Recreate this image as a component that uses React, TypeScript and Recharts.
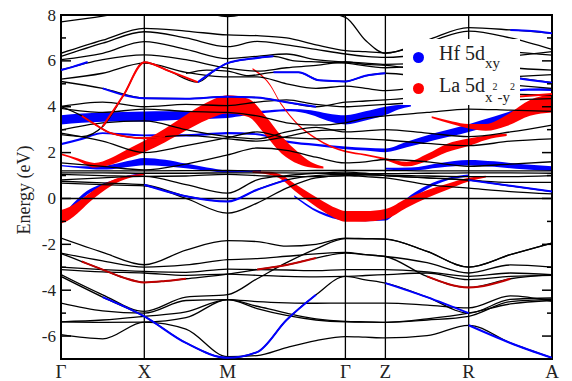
import React from 'react';
import { ComposedChart, Line, Area, XAxis, YAxis, ReferenceLine, ReferenceArea } from 'recharts';

// k-path coordinates (in units of 2π/a) of the sampling nodes
const K_NODES = [0, 0.5, 1, 1.5, 2, 2.354, 2.707, 3.061, 3.414, 3.654, 3.894, 4.394, 4.894, 5.394, 5.894];
const SYM_K = [0, 1, 2, 3.414, 3.894, 4.894, 5.894];
const SYM_LABELS = ['Γ', 'X', 'M', 'Γ', 'Z', 'R', 'A'];
const Y_TICKS = [-7, -6, -5, -4, -3, -2, -1, 0, 1, 2, 3, 4, 5, 6, 7, 8];

// Black bands sampled on K_NODES (eV)
const valenceBands = [
  [-1.73, -2.35, -2.89, -2.25, -1.84, -1.88, -2.08, -2.0, -1.73, -1.75, -1.77, -2.31, -2.99, -2.45, -1.94],
  [-2.38, -2.72, -2.99, -2.9, -2.67, -2.62, -2.52, -2.42, -2.35, -2.45, -2.53, -2.8, -3.25, -2.9, -2.99],
  [-2.99, -3.1, -3.18, -3.22, -3.08, -3.1, -3.12, -3.15, -3.1, -3.1, -3.1, -3.2, -3.4, -3.25, -3.32],
  [-3.1, -3.2, -3.25, -3.35, -3.3, -3.35, -3.4, -3.42, -3.4, -3.36, -3.32, -3.25, -3.54, -3.4, -3.35],
  [-3.32, -4.2, -4.92, -4.3, -4.19, -3.5, -2.8, -2.2, -1.75, -1.76, -1.77, -2.31, -2.99, -2.45, -1.94],
  [-3.4, -4.3, -5.14, -6.3, -6.95, -6.7, -5.3, -4.2, -3.4, -3.55, -3.69, -4.3, -5.0, -4.4, -4.34],
  [-4.56, -4.9, -5.0, -4.45, -4.41, -4.5, -4.55, -4.57, -4.56, -4.56, -4.56, -4.65, -4.77, -4.25, -4.49],
  [-5.38, -5.3, -5.14, -4.95, -4.41, -4.7, -5.0, -5.25, -5.36, -5.38, -5.4, -5.3, -5.14, -4.5, -4.4],
  [-5.38, -5.4, -5.39, -5.2, -4.41, -4.8, -5.1, -5.3, -5.38, -5.39, -5.4, -5.25, -5.0, -4.6, -4.45],
  [-5.94, -6.12, -5.39, -5.7, -6.9, -6.85, -6.5, -6.2, -6.02, -6.05, -6.08, -5.98, -5.53, -6.3, -6.95],
];

const conductionBands = [
  [7.7, 7.95, 8.25, 8.3, 7.93, 8.15, 8.25, 8.15, 7.9, 6.9, 6.33, 6.9, 7.45, 7.35, 7.2],
  [6.33, 6.9, 7.42, 7.3, 7.13, 7.1, 7.0, 6.7, 6.45, 6.4, 6.35, 6.8, 7.3, 7.0, 6.5],
  [6.19, 6.77, 7.27, 7.0, 6.62, 6.85, 6.7, 6.5, 6.3, 6.2, 6.15, 6.3, 6.6, 6.4, 6.25],
  [6.05, 6.33, 6.84, 6.5, 6.1, 6.2, 6.3, 6.05, 5.95, 5.9, 5.85, 5.9, 6.1, 6.2, 6.4],
  [5.6, 6.05, 6.26, 6.05, 5.68, 5.55, 5.7, 5.8, 5.95, 5.85, 5.8, 5.6, 5.55, 5.3, 5.05],
  [5.2, 5.46, 5.9, 5.5, 5.3, 5.3, 5.0, 4.8, 4.9, 4.8, 4.7, 4.9, 5.1, 4.95, 4.8],
  [5.1, 4.8, 4.37, 4.35, 4.44, 4.4, 4.2, 4.0, 4.2, 4.25, 4.3, 4.45, 4.6, 4.55, 4.5],
  [4.01, 4.2, 4.0, 4.1, 4.05, 4.2, 4.3, 4.1, 4.0, 4.05, 4.1, 4.2, 4.25, 4.3, 4.35],
  [3.93, 3.75, 3.9, 3.8, 3.75, 3.6, 3.3, 3.2, 3.3, 3.5, 3.6, 3.75, 3.9, 3.85, 3.8],
  [2.98, 3.3, 3.38, 3.0, 2.7, 2.6, 2.9, 3.1, 2.9, 2.95, 3.0, 2.85, 2.7, 2.9, 3.2],
  [2.85, 2.5, 2.0, 2.3, 2.65, 2.9, 2.65, 2.6, 2.62, 2.6, 2.55, 2.4, 2.3, 2.5, 2.6],
  [1.55, 1.4, 1.25, 1.5, 1.9, 2.2, 2.1, 1.8, 1.55, 1.6, 1.7, 1.6, 1.4, 1.5, 1.6],
  [1.2, 1.2, 1.2, 1.21, 1.22, 1.2, 1.2, 1.22, 1.22, 1.22, 1.22, 1.2, 1.2, 1.2, 1.2],
  [1.12, 1.12, 1.1, 1.1, 1.12, 1.12, 1.12, 1.1, 1.08, 1.08, 1.08, 1.1, 1.12, 1.12, 1.1],
  [1.05, 1.0, 0.96, 0.98, 1.05, 1.0, 0.95, 0.95, 1.0, 1.02, 1.02, 0.98, 0.95, 0.95, 1.0],
  [0.81, 0.9, 0.96, 0.6, 0.23, 0.81, 1.0, 1.1, 1.15, 1.1, 1.0, 0.9, 0.8, 0.7, 0.7],
  [0.67, 0.6, 0.55, 0.0, -0.64, -0.2, 0.45, 0.9, 1.0, 0.95, 0.9, 0.6, 0.45, 0.3, 0.2],
  [0.75, 0.68, 0.6, 0.1, -0.13, 0.38, 0.81, 1.0, 1.05, 1.05, 1.0, 0.9, 0.8, 0.55, 0.3],
];

// Black bands with their own k samples: [k, E]
const bandE = [[0, -2.4], [0.25, -2.75], [0.5, -3.1], [0.75, -3.45], [1, -3.66], [1.25, -3.6], [1.5, -3.5], [2, -3.3], [2.354, -3.1], [2.707, -2.9], [3.061, -2.6], [3.414, -2.38], [3.654, -2.45], [3.894, -2.53], [4.394, -3.4], [4.894, -3.88], [5.394, -3.5], [5.894, -3.32]];
const bandPeakX = [[0, 2.78], [0.25, 2.7], [0.5, 3.14], [0.75, 4.5], [1, 5.94], [1.3, 5.55], [1.64, 5.07], [1.85, 5.6], [2, 5.9], [2.3, 6.1], [2.55, 6.2], [2.8, 6.0], [3.1, 5.95], [3.414, 5.9], [3.894, 5.7], [4.394, 5.8], [4.894, 5.9], [5.394, 5.7], [5.894, 5.6]];
const bandDipX = [[0, 4.01], [0.25, 3.6], [0.4, 3.25], [0.6, 2.85], [1, 2.63], [1.25, 2.7], [1.5, 2.75], [2, 2.6], [2.354, 2.5], [2.707, 2.7], [3.061, 2.95], [3.414, 3.0]];
const bandMid55 = [[1.5, 5.45], [1.75, 5.6], [2, 5.55], [2.25, 5.35], [2.55, 5.5], [2.85, 5.5], [3.1, 5.15], [3.414, 5.1], [3.654, 5.35], [3.894, 5.46], [4.394, 5.3], [4.894, 5.2], [5.394, 5.3], [5.894, 5.4]];

// Thin projected segments: [k, E]
const hfThin = [
  [[0, 5.6], [0.15, 5.75], [0.32, 5.95]],
  [[0.5, 4.8], [1, 4.37], [1.5, 4.35], [2, 4.44], [2.354, 4.4], [2.707, 4.2], [3.061, 4.0]],
  [[1.64, 5.07], [1.85, 5.6], [2, 5.9], [2.3, 6.1], [2.55, 6.2]],
  [[2.55, 5.5], [2.85, 5.5], [3.1, 5.15], [3.414, 5.1], [3.654, 5.35], [3.894, 5.46]],
  [[1, 0.6], [1.5, 0.1], [2, -0.13], [2.354, 0.38], [2.707, 0.81]],
  [[4.894, 0.8], [5.394, 0.55], [5.894, 0.3]],
  [[5.394, 7.35], [5.65, 7.3], [5.894, 7.2]],
  [[5.394, 5.3], [5.65, 5.15], [5.894, 5.05]],
  [[0.5, -4.3], [1, -5.14], [1.5, -6.3], [2, -6.95], [2.354, -6.7], [2.707, -5.3], [3.061, -4.2]],
  [[3.894, -3.69], [4.394, -4.3], [4.894, -5.0]],
  [[4.894, -5.53], [5.394, -6.3], [5.894, -6.95]],
];
const laThin = [
  [[0.5, 3.14], [0.75, 4.5], [1, 5.94], [1.3, 5.55], [1.64, 5.07]],
  [[0.25, 3.6], [0.4, 3.25], [0.6, 2.85], [1, 2.63], [1.25, 2.7]],
  [[5.5, 4.45], [5.7, 4.5], [5.894, 4.55]],
];
const laThinDeep = [
  [[0.25, -2.75], [0.5, -3.1], [0.75, -3.45], [1, -3.66], [1.25, -3.6], [1.5, -3.5]],
  [[2.354, -3.1], [2.707, -2.9], [3.061, -2.6]],
  [[4.394, -3.4], [4.894, -3.88], [5.394, -3.5]],
];

// Fat bands: [k, E, half-thickness]
const hfFat = [
  [[0, 3.43, 0.2], [0.25, 3.5, 0.2], [0.5, 3.55, 0.2], [0.75, 3.57, 0.2], [1, 3.57, 0.22], [1.25, 3.6, 0.2], [1.5, 3.62, 0.18], [1.75, 3.63, 0.16], [2, 3.65, 0.14], [2.2, 3.7, 0.08], [2.5, 3.8, 0.05], [2.75, 3.85, 0.05], [3.0, 3.75, 0.1], [3.2, 3.55, 0.16], [3.414, 3.43, 0.2], [3.654, 3.6, 0.2], [3.894, 3.82, 0.18], [4.05, 3.98, 0.1], [4.2, 4.05, 0.04]],
  [[0, -0.78, 0.12], [0.07, -0.63, 0.11], [0.15, -0.3, 0.1], [0.31, 0.24, 0.09], [0.45, 0.5, 0.08], [0.59, 0.68, 0.07], [0.8, 0.95, 0.05], [1, 1.06, 0.04]],
  [[0, 1.43, 0.03], [0.3, 1.35, 0.05], [0.55, 1.35, 0.09], [0.8, 1.5, 0.13], [1, 1.61, 0.16], [1.25, 1.55, 0.14], [1.5, 1.42, 0.1], [1.75, 1.28, 0.07], [2, 1.18, 0.05], [2.2, 1.18, 0.04], [2.4, 1.2, 0.04]],
  [[0, 2.37, 0.05], [0.25, 2.6, 0.05], [0.5, 2.85, 0.04], [0.75, 2.8, 0.04], [1, 2.75, 0.04], [1.25, 2.75, 0.05], [1.5, 2.75, 0.05], [1.75, 2.8, 0.05], [2, 2.85, 0.05], [2.354, 2.8, 0.04], [2.707, 2.48, 0.05], [3.061, 2.34, 0.05], [3.414, 2.21, 0.06], [3.654, 2.15, 0.06], [3.894, 2.1, 0.08], [4.15, 2.35, 0.12], [4.49, 2.7, 0.15], [4.894, 3.07, 0.17], [5.2, 3.4, 0.17], [5.5, 3.75, 0.16], [5.894, 4.0, 0.12]],
  [[3.894, 1.3, 0.04], [4.2, 1.28, 0.07], [4.55, 1.45, 0.1], [4.894, 1.56, 0.12], [5.2, 1.5, 0.12], [5.55, 1.38, 0.11], [5.894, 1.3, 0.1]],
  [[2.8, 0.1, 0.04], [3.1, -0.6, 0.05], [3.414, -0.9, 0.07], [3.654, -0.92, 0.07], [3.894, -0.88, 0.08], [4.05, -0.4, 0.1], [4.2, 0.05, 0.1], [4.4, 0.5, 0.08], [4.65, 0.85, 0.05], [4.894, 1.0, 0.04]],
  [[5.3, 4.6, 0.03], [5.6, 4.75, 0.05], [5.894, 4.75, 0.06]],
];
const laFat = [
  [[0, -0.8, 0.3], [0.1, -0.65, 0.28], [0.2, -0.4, 0.25], [0.33, 0.0, 0.2], [0.47, 0.38, 0.16], [0.62, 0.7, 0.11], [0.8, 0.93, 0.06], [1, 1.05, 0.04]],
  [[0, 1.93, 0.04], [0.2, 1.7, 0.05], [0.4, 1.45, 0.1], [0.6, 1.62, 0.15], [0.8, 1.95, 0.2], [1, 2.27, 0.25], [1.25, 2.75, 0.3], [1.5, 3.3, 0.34], [1.75, 3.8, 0.38], [2, 4.1, 0.4], [2.25, 3.95, 0.4], [2.45, 3.2, 0.42], [2.65, 2.33, 0.38], [2.85, 1.75, 0.25], [3.0, 1.47, 0.12], [3.15, 1.35, 0.04]],
  [[2.3, 1.15, 0.04], [2.5, 1.1, 0.07], [2.65, 0.92, 0.1], [2.8, 0.5, 0.15], [3.0, 0.0, 0.2], [3.15, -0.35, 0.22], [3.3, -0.65, 0.23], [3.414, -0.78, 0.23], [3.654, -0.78, 0.23], [3.894, -0.68, 0.22], [4.15, -0.2, 0.2], [4.4, 0.2, 0.17], [4.63, 0.5, 0.13], [4.894, 0.82, 0.08], [5.1, 0.95, 0.04]],
  [[2.3, 5.65, 0.04], [2.5, 5.0, 0.04], [2.65, 4.08, 0.04], [2.85, 3.2, 0.04], [3.05, 2.64, 0.04], [3.25, 2.25, 0.04], [3.414, 2.05, 0.04], [3.654, 1.9, 0.04], [3.894, 1.72, 0.05], [4.15, 1.5, 0.1], [4.4, 1.8, 0.15], [4.63, 2.2, 0.18], [4.894, 2.45, 0.16], [5.1, 2.65, 0.1], [5.35, 2.77, 0.05]],
  [[4.45, 3.55, 0.04], [4.7, 3.3, 0.06], [4.894, 3.15, 0.1], [5.1, 3.1, 0.15], [5.35, 3.4, 0.24], [5.63, 3.95, 0.34], [5.894, 4.15, 0.4]],
];

const FONT = "'Liberation Serif', 'DejaVu Serif', serif";
const PLOT_LEFT = 61;
const PLOT_RIGHT = 552;
const BLUE = '#0000ff';
const RED = '#ff0000';
const TEXT_STYLE = { fontFamily: FONT };

const gridPts = (vals) => vals.map((e, i) => [K_NODES[i], e]);
const toLine = (pts) => pts.map(([k, e]) => ({ k, e }));
const toBand = (pts) => pts.map(([k, e, w]) => ({ k, r: [e - w, e + w] }));

const blackSets = [
  ...valenceBands.map(gridPts),
  ...conductionBands.map(gridPts),
  bandE, bandPeakX, bandDipX, bandMid55,
];

const YTick = (props) => {
  const { y, payload } = props;
  const v = payload.value;
  const major = v % 2 === 0;
  const len = major ? 10 : 5;
  return (
    <g>
      <line x1={PLOT_LEFT} x2={PLOT_LEFT + len} y1={y} y2={y} stroke="#000" strokeWidth={1.5} />
      <line x1={PLOT_RIGHT} x2={PLOT_RIGHT - len} y1={y} y2={y} stroke="#000" strokeWidth={1.5} />
      {major && v > -7 ? (
        <text x={56} y={y} dy={5.5} textAnchor="end" style={TEXT_STYLE} fontSize={17} fill="#222">{String(v)}</text>
      ) : null}
    </g>
  );
};

const XTick = (props) => {
  const { x, payload } = props;
  const idx = SYM_K.indexOf(payload.value);
  return (
    <text x={x} y={378} textAnchor="middle" style={TEXT_STYLE} fontSize={19} fill="#222">{SYM_LABELS[idx]}</text>
  );
};

const YLabel = () => (
  <text x={30} y={190} transform="rotate(-90 30 190)" textAnchor="middle" style={TEXT_STYLE} fontSize={18} fill="#222">Energy (eV)</text>
);

export default function App() {
  return (
    <div style={{ position: 'absolute', left: 0, top: 0, width: 572, height: 381, background: '#fff' }}>
      <ComposedChart width={572} height={381} margin={{ top: 15, right: 20, bottom: 0, left: 0 }}>
        <XAxis type="number" dataKey="k" domain={[0, 5.894]} ticks={SYM_K} tick={<XTick />} tickLine={false} axisLine={false} height={22} allowDataOverflow interval={0} />
        <YAxis type="number" domain={[-7, 8]} ticks={Y_TICKS} tick={<YTick />} tickLine={false} axisLine={false} width={61} allowDataOverflow interval={0} label={<YLabel />} />
        {SYM_K.slice(1, 6).map((k) => (
          <ReferenceLine key={'v' + k} x={k} stroke="#000" strokeWidth={1.3} />
        ))}
        <ReferenceLine y={0} stroke="#000" strokeWidth={1.5} />
        {blackSets.map((pts, i) => (
          <Line key={'blk' + i} data={toLine(pts)} dataKey="e" type="monotone" stroke="#000" strokeWidth={1.3} dot={false} isAnimationActive={false} />
        ))}
        {hfThin.map((pts, i) => (
          <Line key={'hft' + i} data={toLine(pts)} dataKey="e" type="monotone" stroke={BLUE} strokeWidth={2} dot={false} isAnimationActive={false} />
        ))}
        {hfFat.map((pts, i) => (
          <Area key={'hff' + i} data={toBand(pts)} dataKey="r" type="monotone" stroke="none" fill={BLUE} fillOpacity={1} isAnimationActive={false} />
        ))}
        {laThinDeep.map((pts, i) => (
          <Line key={'ltd' + i} data={toLine(pts)} dataKey="e" type="monotone" stroke="#c00000" strokeWidth={2} dot={false} isAnimationActive={false} />
        ))}
        {laThin.map((pts, i) => (
          <Line key={'lt' + i} data={toLine(pts)} dataKey="e" type="monotone" stroke={RED} strokeWidth={2} dot={false} isAnimationActive={false} />
        ))}
        {laFat.map((pts, i) => (
          <Area key={'lf' + i} data={toBand(pts)} dataKey="r" type="monotone" stroke="none" fill={RED} fillOpacity={1} isAnimationActive={false} />
        ))}
        <ReferenceArea x1={0} x2={5.894} y1={-7} y2={8} fill="none" stroke="#000" strokeWidth={2} />
      </ComposedChart>
      <div style={{ position: 'absolute', left: 403, top: 39, width: 117, height: 66, background: '#fff', fontFamily: FONT, color: '#222' }}>
        <div style={{ position: 'absolute', left: 10, top: 13, width: 11, height: 11, borderRadius: '50%', background: BLUE }} />
        <div style={{ position: 'absolute', left: 10, top: 44, width: 11, height: 11, borderRadius: '50%', background: RED }} />
        <div style={{ position: 'absolute', left: 36, top: 4, fontSize: 20, lineHeight: '20px', whiteSpace: 'nowrap' }}>
          Hf 5d<span style={{ fontSize: 15, position: 'relative', top: 8 }}>xy</span>
        </div>
        <div style={{ position: 'absolute', left: 36, top: 36, fontSize: 20, lineHeight: '20px', whiteSpace: 'nowrap' }}>
          La 5d<span style={{ fontSize: 15, position: 'relative', top: 10 }}>x<span style={{ fontSize: 10, position: 'relative', top: -12 }}>2</span>-y<span style={{ fontSize: 10, position: 'relative', top: -12 }}>2</span></span>
        </div>
      </div>
    </div>
  );
}
